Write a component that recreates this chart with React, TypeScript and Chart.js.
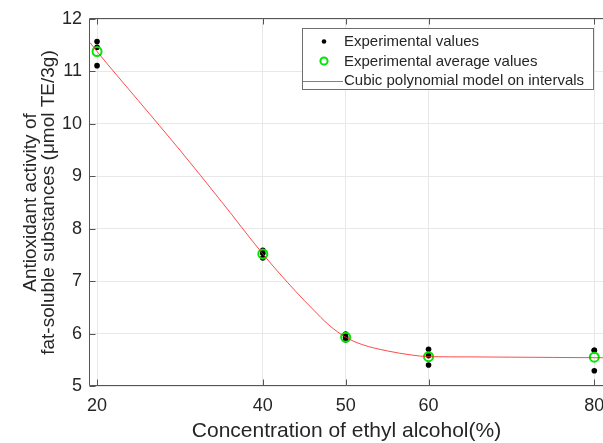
import React, { useEffect, useRef } from "react";
import { Chart, registerables } from "chart.js";

Chart.register(...registerables);

const FONT = "'Liberation Sans', Arial, Helvetica, sans-serif";
const TEXT = "#262626";

// ---- data ----
const concentrations = [20, 40, 50, 60, 80];
const replicateA = [11.57, 7.59, 5.99, 5.7, 5.68];
const replicateB = [11.46, 7.53, 5.93, 5.58, 5.68];
const replicateC = [11.11, 7.44, 5.88, 5.4, 5.29];
const averages = [11.38, 7.52, 5.93, 5.56, 5.55];

const modelX = [19.15, 20, 25, 30, 35, 40, 42, 44, 46, 48, 50, 52, 55, 58, 60, 65, 70, 75, 80, 81.05];
const modelY = [11.55, 11.38, 10.44, 9.5, 8.52, 7.52, 7.15, 6.8, 6.47, 6.16, 5.93, 5.79, 5.67, 5.59, 5.56, 5.555, 5.55, 5.545, 5.54, 5.54];

const xTickValues = [20, 40, 50, 60, 80];
const yTickValues = [5, 6, 7, 8, 9, 10, 11, 12];
const xRange = [19.15, 81.05];
const yRange = [5, 12];

const seriesLabels = [
  "Experimental values",
  "Experimental average values",
  "Cubic polynomial model on intervals",
];
const xTitle = "Concentration of ethyl alcohol(%)";
const yTitle = ["Antioxidant activity of", "fat-soluble substances (μmol TE/3g)"];

const boxPlugin = {
  id: "matlabBox",
  beforeDatasetsDraw(chart: any) {
    const { ctx, chartArea: a, scales } = chart;
    const L = a.left - 0.5;
    const T = a.top - 0.5;
    const B = a.bottom - 0.5;
    const R = a.right + 0.5;
    ctx.save();
    ctx.strokeStyle = "#555555";
    ctx.lineWidth = 1;
    ctx.beginPath();
    ctx.moveTo(R, T);
    ctx.lineTo(L, T);
    ctx.lineTo(L, B);
    ctx.lineTo(R, B);
    const tl = 6;
    scales.x.ticks.forEach((t: any) => {
      const px = Math.round(scales.x.getPixelForValue(t.value)) + 0.5;
      ctx.moveTo(px, B);
      ctx.lineTo(px, B - tl);
      ctx.moveTo(px, T);
      ctx.lineTo(px, T + tl);
    });
    scales.y.ticks.forEach((t: any) => {
      const py = Math.round(scales.y.getPixelForValue(t.value)) + 0.5;
      ctx.moveTo(L, py);
      ctx.lineTo(L + tl, py);
    });
    ctx.stroke();
    ctx.restore();
  },
  afterDraw(chart: any) {
    const { ctx, chartArea: a } = chart;
    const right = a.right - 10;
    const left = right - 291;
    const top = a.top + 9;
    const h = 61;
    ctx.save();
    ctx.fillStyle = "#ffffff";
    ctx.fillRect(left, top, right - left, h);
    ctx.strokeStyle = "#6e6e6e";
    ctx.lineWidth = 1;
    ctx.strokeRect(left + 0.5, top + 0.5, right - left, h);
    const rows = [top + 13.5, top + 33, top + 52.5];
    const sx = left + 22;
    // black dot
    ctx.fillStyle = "#000";
    ctx.beginPath();
    ctx.arc(sx, rows[0], 2.3, 0, Math.PI * 2);
    ctx.fill();
    // green circle
    ctx.strokeStyle = "#00e600";
    ctx.lineWidth = 2;
    ctx.beginPath();
    ctx.arc(sx, rows[1], 3.6, 0, Math.PI * 2);
    ctx.stroke();
    // red line
    ctx.strokeStyle = "rgba(255,30,30,0.8)";
    ctx.lineWidth = 1;
    ctx.beginPath();
    ctx.moveTo(left + 1, Math.round(rows[2]) + 0.5);
    ctx.lineTo(left + 41, Math.round(rows[2]) + 0.5);
    ctx.stroke();
    ctx.fillStyle = TEXT;
    ctx.font = `15px ${FONT}`;
    ctx.textBaseline = "middle";
    ctx.textAlign = "left";
    seriesLabels.forEach((s, i) => ctx.fillText(s, left + 42, rows[i] + 0.5));
    ctx.restore();
  },
};

export default function App() {
  const ref = useRef<HTMLCanvasElement | null>(null);

  useEffect(() => {
    if (!ref.current) return;
    const experimental: { x: number; y: number }[] = [];
    concentrations.forEach((c, i) => {
      experimental.push({ x: c, y: replicateA[i] });
      experimental.push({ x: c, y: replicateB[i] });
      experimental.push({ x: c, y: replicateC[i] });
    });
    const chart = new Chart(ref.current, {
      type: "scatter",
      data: {
        datasets: [
          {
            label: seriesLabels[2],
            data: modelX.map((x, i) => ({ x, y: modelY[i] })),
            showLine: true,
            borderColor: "rgba(255,30,30,0.8)",
            borderWidth: 1,
            pointRadius: 0,
            cubicInterpolationMode: "monotone",
            order: 0,
          },
          {
            label: seriesLabels[1],
            data: concentrations.map((x, i) => ({ x, y: averages[i] })),
            pointRadius: 4.5,
            pointBorderWidth: 2,
            borderColor: "#00e600",
            backgroundColor: "rgba(255,255,255,0)",
            order: 1,
          },
          {
            label: seriesLabels[0],
            data: experimental,
            pointRadius: 2.8,
            pointBorderWidth: 0,
            borderColor: "#000",
            backgroundColor: "#000",
            order: 2,
          },
        ],
      } as any,
      options: {
        animation: false,
        responsive: true,
        maintainAspectRatio: false,
        layout: { autoPadding: false, padding: { top: 19, left: 0, right: 0, bottom: 0 } },
        plugins: { legend: { display: false }, tooltip: { enabled: false } },
        scales: {
          x: {
            type: "linear",
            min: xRange[0],
            max: xRange[1],
            afterBuildTicks: (s: any) => {
              s.ticks = xTickValues.map((v) => ({ value: v }));
            },
            afterFit: (s: any) => {
              s.height = 57;
              s.paddingLeft = 0;
              s.paddingRight = 0;
            },
            grid: { color: "#e8e8e8", drawTicks: false, lineWidth: 1 },
            border: { display: false },
            ticks: {
              color: TEXT,
              font: { size: 18, family: FONT },
              padding: 9,
              maxRotation: 0,
              autoSkip: false,
            },
            title: {
              display: true,
              text: xTitle,
              color: TEXT,
              font: { size: 21, family: FONT, lineHeight: 1 },
              padding: { top: 0, bottom: 1.5 },
            },
          },
          y: {
            type: "linear",
            min: yRange[0],
            max: yRange[1],
            afterBuildTicks: (s: any) => {
              s.ticks = yTickValues.map((v) => ({ value: v }));
            },
            afterFit: (s: any) => {
              s.width = 90;
              s.paddingTop = 0;
              s.paddingBottom = 0;
            },
            grid: { color: "#e8e8e8", drawTicks: false, lineWidth: 1 },
            border: { display: false },
            ticks: {
              color: TEXT,
              font: { size: 18, family: FONT },
              padding: 8,
              autoSkip: false,
            },
            title: {
              display: true,
              text: yTitle,
              color: TEXT,
              font: { size: 19, family: FONT, lineHeight: "18px" },
              padding: { top: 22, bottom: 0 },
            },
          },
        },
      } as any,
      plugins: [boxPlugin],
    });
    return () => chart.destroy();
  }, []);

  return (
    <div style={{ position: "absolute", left: 0, top: 0, width: 603, height: 443, background: "#fff" }}>
      <canvas ref={ref} />
    </div>
  );
}
